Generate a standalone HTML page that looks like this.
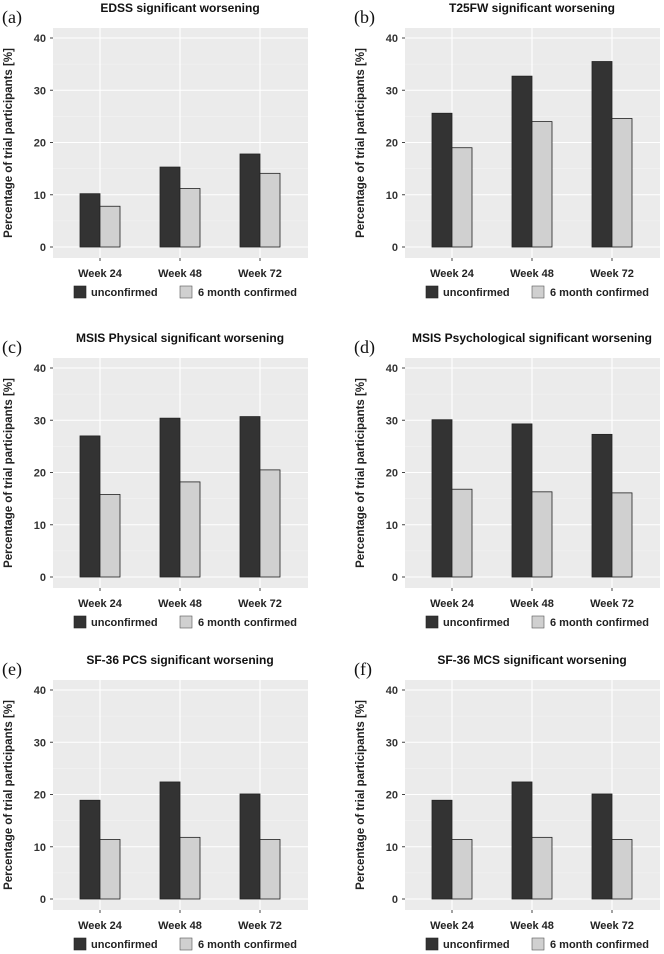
<!DOCTYPE html>
<html><head><meta charset="utf-8"><style>
body{margin:0;background:#fff;width:664px;height:954px;overflow:hidden}
svg{display:block}
.s{font-family:"Liberation Sans",sans-serif}
.serif{font-family:"Liberation Serif",serif}
</style></head><body>
<svg id="fig" width="664" height="954"></svg>
<script>
const categories=["Week 24","Week 48","Week 72"];
const titles=["EDSS significant worsening","T25FW significant worsening","MSIS Physical significant worsening","MSIS Psychological significant worsening","SF-36 PCS significant worsening","SF-36 MCS significant worsening"];
const panelLabels=["(a)","(b)","(c)","(d)","(e)","(f)"];
const unconfirmed=[[10.2,15.3,17.8],[25.6,32.7,35.5],[27,30.4,30.7],[30.1,29.3,27.3],[18.9,22.4,20.1],[18.9,22.4,20.1]];
const confirmed=[[7.8,11.2,14.1],[19,24,24.6],[15.8,18.2,20.5],[16.8,16.3,16.1],[11.4,11.8,11.4],[11.4,11.8,11.4]];
const yTicks=[0,10,20,30,40];
const NS="http://www.w3.org/2000/svg";
const svg=document.getElementById('fig');
function mk(tag,attrs,parent,txt){const e=document.createElementNS(NS,tag);for(const k in attrs)e.setAttribute(k,attrs[k]);if(txt!==undefined)e.textContent=txt;(parent||svg).appendChild(e);return e;}
const rowOff=[0,330,652];
for(let p=0;p<6;p++){
  const ox=(p%2)*352, oy=rowOff[Math.floor(p/2)];
  const g=mk('g',{transform:`translate(${ox},${oy})`});
  
  
  const y=v=>247-v*5.225;
  const x=i=>100+i*80;
  const lab=mk('text',{class:'serif',x:2,y:23,'font-size':18,fill:'#111'},g,panelLabels[p]);
  
  
  const t=mk('text',{class:'s',x:180,y:12,'text-anchor':'middle','font-size':12,'font-weight':'bold',fill:'#111'},g,titles[p]);
  
  
  const bg=mk('rect',{x:53,y:28,width:255,height:230,fill:'#ebebeb'},g);
  
  
  [5,15,25,35].forEach(v=>mk('line',{x1:53,x2:308,y1:y(v),y2:y(v),stroke:'#f5f5f5','stroke-width':0.6},g));
  yTicks.forEach(v=>{
    mk('line',{x1:53,x2:308,y1:y(v),y2:y(v),stroke:'#fff','stroke-width':1.1},g);
    mk('line',{x1:50,x2:53,y1:y(v),y2:y(v),stroke:'#444'},g);
    const tl=mk('text',{class:'s',x:46,y:y(v)+4,'text-anchor':'end','font-size':11,'font-weight':'bold',fill:'#333'},g,String(v));
    
    
  });
  categories.forEach((c,i)=>{
    mk('line',{x1:x(i),x2:x(i),y1:28,y2:258,stroke:'#fff','stroke-width':1.1},g);
    mk('line',{x1:x(i),x2:x(i),y1:258,y2:261,stroke:'#444'},g);
    const cl=mk('text',{class:'s',x:x(i),y:277,'text-anchor':'middle','font-size':11,'font-weight':'bold',fill:'#222'},g,c);
    
    
    const b1=mk('rect',{x:x(i)-20,y:y(unconfirmed[p][i]),width:20,height:y(0)-y(unconfirmed[p][i]),fill:'#333',stroke:'#222','stroke-width':0.8},g);
    
    
    const b2=mk('rect',{x:x(i),y:y(confirmed[p][i]),width:20,height:y(0)-y(confirmed[p][i]),fill:'#d0d0d0',stroke:'#222','stroke-width':0.8},g);
    
    
  });
  const yt=mk('text',{class:'s',transform:'translate(12,143) rotate(-90)','text-anchor':'middle','font-size':11.5,'font-weight':'bold',fill:'#222'},g,'Percentage of trial participants [%]');
  
  
  const l1=mk('rect',{x:74,y:286,width:12,height:12,fill:'#333',stroke:'#222','stroke-width':0.6},g);
  
  
  const lt1=mk('text',{class:'s',x:91,y:296,'font-size':11,'font-weight':'bold',fill:'#222'},g,'unconfirmed');
  
  
  const l2=mk('rect',{x:180,y:286,width:12,height:12,fill:'#d0d0d0',stroke:'#555','stroke-width':0.6},g);
  
  
  const lt2=mk('text',{class:'s',x:198,y:296,'font-size':11,'font-weight':'bold',fill:'#222'},g,'6 month confirmed');
  
  
}
</script>
</body></html>
